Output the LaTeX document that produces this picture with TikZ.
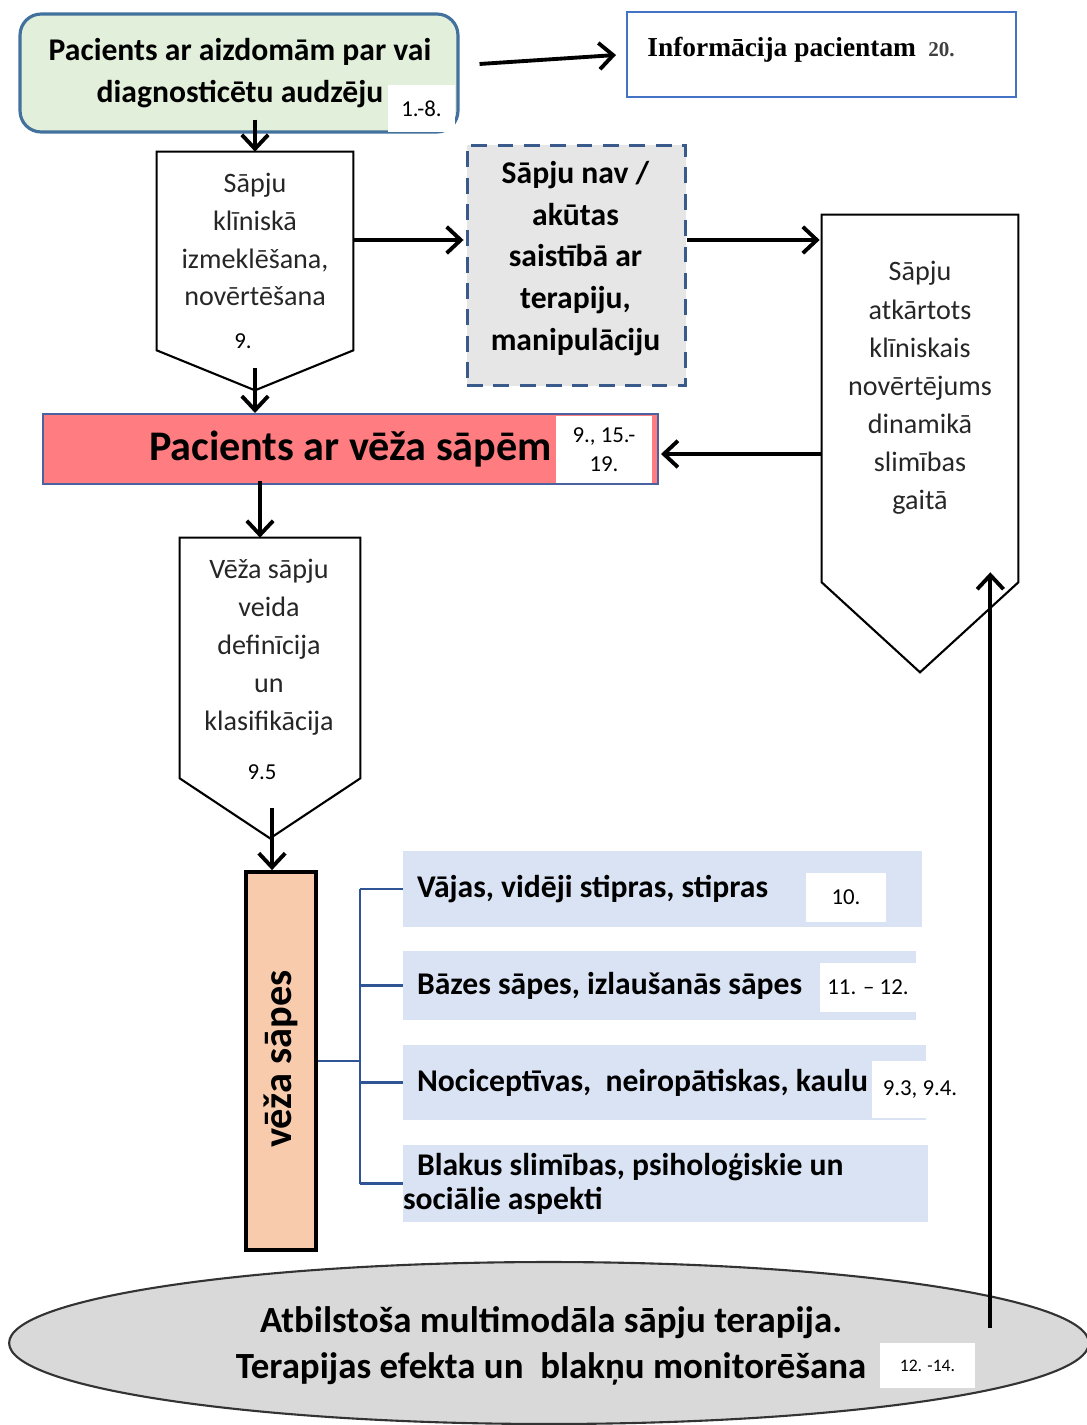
\documentclass[tikz,border=0pt]{standalone}
\usepackage{fontspec}
\setmainfont{Carlito}
\newfontfamily\timesfont{Liberation Serif}
\usetikzlibrary{arrows.meta,positioning,shapes.geometric,calc}
\usepackage{xcolor}
\definecolor{boxline}{HTML}{41719C}
\definecolor{greenfill}{HTML}{E2EFDA}
\definecolor{infoblue}{HTML}{4472C4}
\definecolor{dashblue}{HTML}{3A5A8C}
\definecolor{grayfill}{HTML}{E7E6E6}
\definecolor{redfill}{HTML}{FF7C80}
\definecolor{barline}{HTML}{4A62A0}
\definecolor{orangefill}{HTML}{F8CBAD}
\definecolor{rowfill}{HTML}{DAE3F3}
\definecolor{treeblue}{HTML}{2F5597}
\definecolor{ellfill}{HTML}{D9D9D9}

\begin{document}
\begin{tikzpicture}[x=0.02cm, y=-0.02cm,
    arr/.style={-{Straight Barb[length=8pt,width=15pt]}, line width=2.2pt},
    pent/.style={draw, line width=1.2pt, fill=white},
    pentbody/.style={inner sep=0pt},
    plaintxt/.style={align=center, text=black!85, font=\fontsize{16}{21.6}\selectfont},
    boldtxt/.style={align=center, font=\bfseries\fontsize{18}{23.7}\selectfont},
    reflabel/.style={fill=white, inner sep=0pt, align=center, font=\fontsize{13}{16.5}\selectfont},
    rowbox/.style={fill=rowfill, inner sep=0pt},
    rowtxt/.style={inner sep=0pt, align=left, font=\bfseries\fontsize{18}{19.3}\selectfont},
    treeline/.style={draw=treeblue, line width=1.2pt}
  ]
  \useasboundingbox (0,0) rectangle (1087,1425);

  % top row
  \node[draw=boxline, line width=1.8pt, fill=greenfill, rounded corners=12pt,
        minimum width=8.76cm, minimum height=2.36cm] (start) at (239,73) {};
  \node[boldtxt, font=\bfseries\fontsize{18}{24}\selectfont] (starttxt) at (240,73)
    {Pacients ar aizdomām par vai\\diagnosticētu audzēju};
  \node[reflabel, minimum width=1.34cm, minimum height=0.94cm] (startref) at (421.5,108.5) {1.-8.};
  \node[draw=infoblue, line width=1.2pt, minimum width=7.78cm, minimum height=1.7cm] (info) at (821.5,54.5) {};
  \node[anchor=base west, inner sep=0pt, font=\timesfont\bfseries\fontsize{15.6}{18}\selectfont] (infotxt) at (647,57)
    {Informācija pacientam\hspace{7pt}{\fontsize{12}{14}\selectfont\color{black!75}20.}};

  % pentagons
  \node[pentbody, minimum width=3.92cm, minimum height=3.96cm] (p1) at (255,251) {};
  \draw[pent] (p1.north west) -- (p1.north east) -- (p1.south east) -- ($(p1.south)+(0,40)$) -- (p1.south west) -- cycle;
  \node[plaintxt] (p1txt) at ($(p1.center)+(0,-11.5)$) {Sāpju\\klīniskā\\izmeklēšana,\\novērtēšana};
  \node[reflabel] (p1ref) at ($(p1.center)+(-12,90)$) {9.};

  \node[pentbody, minimum width=3.6cm, minimum height=4.8cm] (p2) at (270,658) {};
  \draw[pent] (p2.north west) -- (p2.north east) -- (p2.south east) -- ($(p2.south)+(0,60)$) -- (p2.south west) -- cycle;
  \node[plaintxt] (p2txt) at ($(p2.center)+(-1,-10.5)$) {Vēža sāpju\\veida\\definīcija\\un\\klasifikācija};
  \node[reflabel] (p2ref) at ($(p2.center)+(-8,114)$) {9.5};

  \node[pentbody, minimum width=3.92cm, minimum height=7.34cm] (p3) at (920,398.5) {};
  \draw[pent] (p3.north west) -- (p3.north east) -- (p3.south east) -- ($(p3.south)+(0,90)$) -- (p3.south west) -- cycle;
  \node[plaintxt, font=\fontsize{16}{21.7}\selectfont] (p3txt) at ($(p3.center)+(0,-10.5)$)
    {Sāpju\\atkārtots\\klīniskais\\novērtējums\\dinamikā\\slimības\\gaitā};

  % middle boxes
  \node[draw=dashblue, line width=1.7pt, dash pattern=on 9pt off 6pt, fill=grayfill,
        minimum width=4.38cm, minimum height=4.82cm] (dash) at (576.5,265.5) {};
  \node[boldtxt] (dashtxt) at ($(dash.center)+(-1,-7)$) {Sāpju nav /\\akūtas\\saistībā ar\\terapiju,\\manipulāciju};

  \node[draw=barline, line width=1.2pt, fill=redfill, minimum width=12.3cm, minimum height=1.4cm] (bar) at (350.5,449) {};
  \node[inner sep=0pt, font=\bfseries\fontsize{24}{28}\selectfont] (bartxt) at (350.5,449) {Pacients ar vēža sāpēm};
  \node[reflabel, minimum width=1.92cm, minimum height=1.34cm] (barref) at (604,449.5) {9., 15.-\\19.};

  % classification
  \node[draw, line width=2.2pt, fill=orangefill, minimum width=1.4cm, minimum height=7.56cm] (vs) at (281,1061) {};
  \node[rotate=90, inner sep=0pt, font=\bfseries\fontsize{23}{28}\selectfont] (vstxt) at (281,1059) {vēža sāpes};

  \node[rowbox, minimum width=10.38cm, minimum height=1.52cm] (r1) at (662.5,889) {};
  \node[rowtxt, right=0.28cm of r1.west] (r1txt) {Vājas, vidēji stipras, stipras};
  \node[reflabel, minimum width=1.6cm, minimum height=0.98cm] (r1ref) at (846,897.5) {10.};

  \node[rowbox, minimum width=10.26cm, minimum height=1.38cm] (r2) at (659.5,985.5) {};
  \node[rowtxt, right=0.28cm of r2.west] (r2txt) {Bāzes sāpes, izlaušanās sāpes};
  \node[reflabel, minimum width=1.92cm, minimum height=0.98cm] (r2ref) at (868,987.5) {11. -- 12.};

  \node[rowbox, minimum width=10.46cm, minimum height=1.5cm] (r3) at (664.5,1082.5) {};
  \node[rowtxt, right=0.28cm of r3.west] (r3txt) {Nociceptīvas,\ \ neiropātiskas, kaulu};
  \node[reflabel, minimum width=1.92cm, minimum height=1.14cm] (r3ref) at (920,1089.5) {9.3, 9.4.};

  \node[rowbox, minimum width=10.5cm, minimum height=1.54cm] (r4) at (665.5,1183.5) {};
  \node[rowtxt, right=0pt of r4.west] (r4txt) {\hspace*{0.28cm}Blakus slimības, psiholoģiskie un\\sociālie aspekti};

  \draw[treeline] (vs.east) -- ++(42,0) coordinate (fork);
  \draw[treeline] (fork |- r1.west) -- (fork |- r4.west);
  \foreach \r in {r1,r2,r3,r4}
    \draw[treeline] (fork |- \r.west) -- (\r.west);

  % therapy
  \node[ellipse, draw=black!80, line width=1.2pt, fill=ellfill, minimum width=21.6cm, minimum height=3.24cm] (ell) at (549,1343) {};
  \node[align=center, font=\bfseries\fontsize{21}{26.6}\selectfont] (elltxt) at (551,1346)
    {Atbilstoša multimodāla sāpju terapija.\\Terapijas efekta un\ \ blakņu monitorēšana};
  \node[reflabel, font=\fontsize{10}{12}\selectfont, minimum width=1.9cm, minimum height=0.9cm] (ellref) at (927.5,1365.5) {12. -14.};

  % arrows
  \draw[arr] ($(start.east)+(20,-9)$) -- ($(info.west)+(-10,0.5)$);
  \draw[arr] ($(start.south -| p1.north)+(0,-14)$) -- (p1.north);
  \draw[arr] ($(p1.east)+(0,-11)$) -- ($(dash.west)+(-2,-25.5)$);
  \draw[arr] ($(dash.east)+(0,-25.5)$) -- ($(p3.west)+(-2,-158.5)$);
  \draw[arr] ($(p1.south)+(0,18)$) -- (bar.north -| p1.south);
  \draw[arr] ($(p3.west)+(0,55.5)$) -- ($(bar.east)+(2,5)$);
  \draw[arr] ($(bar.south -| p2.north)+(-10,-4)$) -- ($(p2.north)+(-10,0)$);
  \draw[arr] ($(p2.south)+(2,30)$) -- ($(vs.north)+(-9,0)$);
  \draw[arr] ($(ell.center -| p3.south east)+(-28,-15)$) -- ($(p3.south east)+(-28,-10)$);
\end{tikzpicture}
\end{document}
